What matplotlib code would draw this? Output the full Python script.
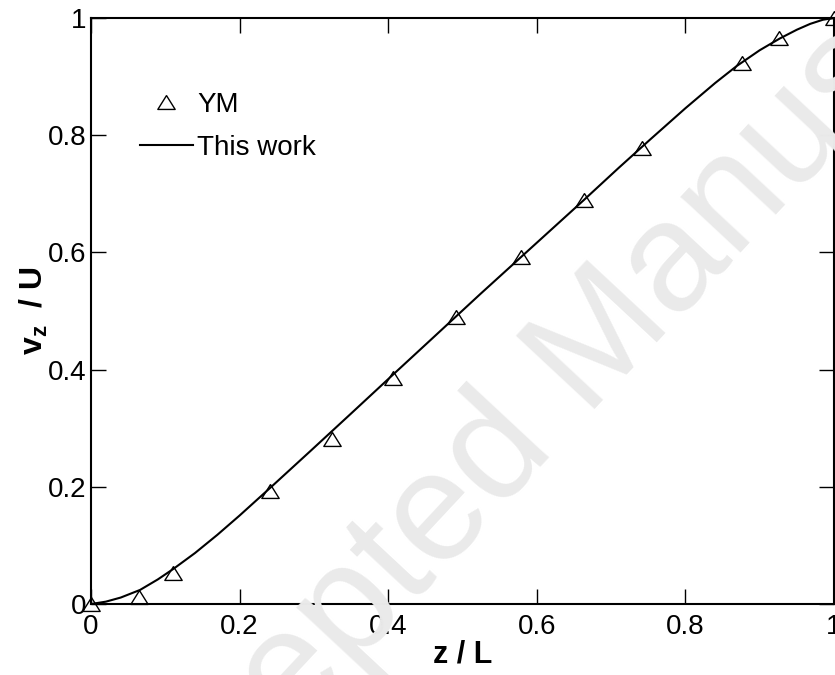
import numpy as np
import matplotlib
matplotlib.use("Agg")
import matplotlib.pyplot as plt

plt.rcParams['font.family'] = ['Liberation Sans', 'DejaVu Sans']
plt.rcParams['mathtext.fontset'] = 'custom'
plt.rcParams['mathtext.rm'] = 'Liberation Sans'
plt.rcParams['mathtext.bf'] = 'Liberation Sans:bold'

# YM data (triangles)
ym_z = [0.0, 0.065, 0.111, 0.241, 0.324, 0.407, 0.491, 0.579, 0.663, 0.741, 0.876, 0.926, 1.0]
ym_v = [0.0, 0.012, 0.053, 0.193, 0.282, 0.386, 0.489, 0.593, 0.689, 0.779, 0.924, 0.966, 1.0]

# this work (line)
work_z = [0.0, 0.02, 0.04, 0.066, 0.09, 0.111, 0.14, 0.17, 0.2, 0.241, 0.297, 0.35,
          0.407, 0.46, 0.524, 0.577, 0.63, 0.663, 0.71, 0.752, 0.8, 0.84, 0.869,
          0.9, 0.927, 0.95, 0.968, 0.985, 1.0]
work_v = [0.0, 0.004, 0.011, 0.024, 0.042, 0.060, 0.087, 0.118, 0.151, 0.198, 0.263, 0.325,
          0.392, 0.454, 0.529, 0.590, 0.651, 0.689, 0.744, 0.792, 0.846, 0.889, 0.918,
          0.945, 0.965, 0.980, 0.990, 0.997, 1.0]

ticks = [0, 0.2, 0.4, 0.6, 0.8, 1]
tick_labels = ['0', '0.2', '0.4', '0.6', '0.8', '1']

fig = plt.figure(figsize=(8.35, 6.75), dpi=100)
ax = fig.add_axes([91 / 835, 1 - 604 / 675, 743 / 835, 586 / 675])

# watermark
fig.text(580 / 835, 1 - 365 / 675, 'Accepted Manuscript', fontsize=112, color='#eaeaea',
         rotation=47, ha='center', va='center', rotation_mode='anchor', zorder=0)
ax.set_facecolor('none')

tri = [(0, 0.8), (-1, -0.8), (1, -0.8), (0, 0.8)]
ax.plot(work_z, work_v, color='black', lw=1.5, label='This work', zorder=3)
ax.plot(ym_z, ym_v, ls='none', marker=tri, ms=12.5, mfc='none', mec='black', mew=1.0,
        label='YM', clip_on=False, zorder=4)

ax.set_xlim(0, 1)
ax.set_ylim(0, 1)
ax.set_xticks(ticks)
ax.set_xticklabels(tick_labels)
ax.set_yticks(ticks)
ax.set_yticklabels(tick_labels)
ax.tick_params(direction='in', length=11, width=1, labelsize=20, top=True, right=True)
ax.tick_params(axis='x', pad=7)
ax.tick_params(axis='y', pad=3)
for s in ax.spines.values():
    s.set_linewidth(1.5)

ax.set_xlabel('z / L', fontsize=22, fontweight='bold', labelpad=0)
ax.set_ylabel(r'$\mathbf{v_z}$  / U', fontsize=23, fontweight='bold')
ax.yaxis.set_label_coords(-0.055, 0.5)

h, l = ax.get_legend_handles_labels()
ax.legend([h[1], h[0]], [l[1], l[0]], loc='upper left', bbox_to_anchor=(140 / 835, 1 - 92 / 675),
          bbox_transform=fig.transFigure, frameon=False, fontsize=20, handlelength=1.9,
          handletextpad=0.15, labelspacing=0.6, borderpad=0, borderaxespad=0)

fig.savefig('out.png', dpi=100)
